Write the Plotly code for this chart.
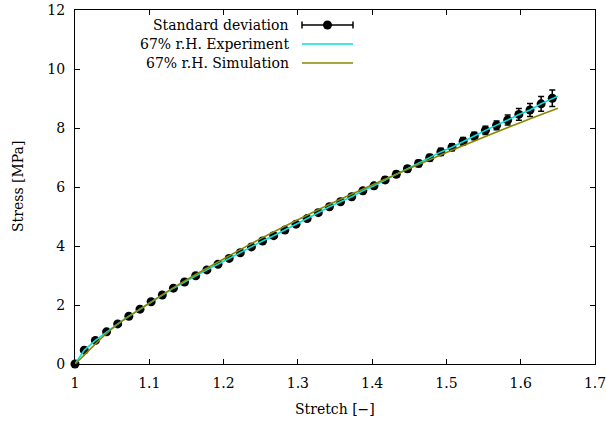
import plotly.graph_objects as go

# ---- data ----
pt_stretch = [1.0, 1.0125, 1.0275, 1.0425, 1.0575, 1.0725, 1.0875, 1.1025, 1.1175, 1.1325,
              1.1475, 1.1625, 1.1775, 1.1925, 1.2075, 1.2225, 1.2375, 1.2525, 1.2675, 1.2825,
              1.2975, 1.3125, 1.3275, 1.3425, 1.3575, 1.3725, 1.3875, 1.4025, 1.4175, 1.4325,
              1.4475, 1.4625, 1.4775, 1.4925, 1.5075, 1.5225, 1.5375, 1.5525, 1.5675, 1.5825,
              1.5975, 1.6125, 1.6275, 1.6425]
pt_stress = [0.0, 0.47, 0.80, 1.09, 1.36, 1.62, 1.86, 2.11, 2.34, 2.57,
             2.78, 2.99, 3.19, 3.38, 3.58, 3.77, 3.97, 4.17, 4.35, 4.54,
             4.74, 4.93, 5.13, 5.33, 5.50, 5.67, 5.87, 6.04, 6.24, 6.43,
             6.62, 6.80, 6.99, 7.19, 7.35, 7.55, 7.73, 7.92, 8.09, 8.27,
             8.46, 8.61, 8.82, 9.01]
pt_std = [0.0, 0.02, 0.02, 0.03, 0.03, 0.03, 0.04, 0.04, 0.04, 0.05,
          0.05, 0.05, 0.05, 0.06, 0.06, 0.06, 0.06, 0.07, 0.07, 0.07,
          0.07, 0.08, 0.08, 0.08, 0.08, 0.09, 0.09, 0.09, 0.10, 0.10,
          0.10, 0.11, 0.11, 0.12, 0.12, 0.13, 0.13, 0.14, 0.15, 0.17,
          0.20, 0.22, 0.25, 0.28]

exp_stretch = pt_stretch + [1.65]
exp_stress = pt_stress + [9.08]

sim_stretch = [1.0, 1.01, 1.05, 1.10, 1.15, 1.20, 1.25, 1.30, 1.35, 1.40, 1.45, 1.50, 1.55, 1.60, 1.65]
sim_stress = [0.0, 0.24, 1.20, 2.06, 2.85, 3.56, 4.25, 4.89, 5.50, 6.07, 6.63, 7.17, 7.69, 8.19, 8.67]

x_ticks = [1, 1.1, 1.2, 1.3, 1.4, 1.5, 1.6, 1.7]
x_ticklabels = ["1", "1.1", "1.2", "1.3", "1.4", "1.5", "1.6", "1.7"]
y_ticks = [0, 2, 4, 6, 8, 10, 12]

legend_labels = ["Standard deviation", "67% r.H. Experiment", "67% r.H. Simulation"]
x_title = "Stretch [−]"
y_title = "Stress [MPa]"

CYAN = "#00e0e0"
OLIVE = "#888800"
FONT = "DejaVu Serif"
FS = 14

W, H = 606, 427
ml, mr, mt, mb = 75, 11, 10, 63
pw, ph = W - ml - mr, H - mt - mb

fig = go.Figure()
fig.add_trace(go.Scatter(
    x=pt_stretch, y=pt_stress, mode="markers",
    marker=dict(color="black", size=9),
    error_y=dict(type="data", array=pt_std, color="black", thickness=1.5, width=3),
    cliponaxis=False, showlegend=False))
fig.add_trace(go.Scatter(
    x=exp_stretch, y=exp_stress, mode="lines",
    line=dict(color=CYAN, width=1.6), showlegend=False))
fig.add_trace(go.Scatter(
    x=sim_stretch, y=sim_stress, mode="lines", line_shape="spline",
    line=dict(color=OLIVE, width=1.6), showlegend=False))

axis_common = dict(showline=True, linecolor="black", linewidth=1, mirror="ticks",
                   ticks="inside", ticklen=5, tickcolor="black", showgrid=False,
                   zeroline=False, automargin=False, ticklabeloverflow="allow",
                   tickfont=dict(family=FONT, size=FS, color="black"))
fig.update_xaxes(range=[1, 1.7], tickvals=x_ticks, ticktext=x_ticklabels, ticklabelstandoff=6,
                 **axis_common)
fig.update_yaxes(range=[0, 12], tickvals=y_ticks, ticklabelstandoff=6, **axis_common)

def px(xp):
    return (xp - ml) / pw
def py(yp):
    return 1 - (yp - mt) / ph

# axis titles
fig.add_annotation(xref="paper", yref="paper", x=px(335), y=py(409), text=x_title,
                   showarrow=False, xanchor="center", yanchor="middle",
                   font=dict(family=FONT, size=FS, color="black"))
fig.add_annotation(xref="paper", yref="paper", x=px(18), y=py(187), text=y_title,
                   showarrow=False, xanchor="center", yanchor="middle", textangle=-90,
                   font=dict(family=FONT, size=FS, color="black"))

# custom legend (text right-aligned, sample to the right)
rows = [25, 44, 63]
for lab, yrow in zip(legend_labels, rows):
    fig.add_annotation(xref="paper", yref="paper", x=px(291), y=py(yrow), text=lab,
                       showarrow=False, xanchor="right", yanchor="middle",
                       font=dict(family=FONT, size=FS, color="black"))
fig.add_shape(type="line", xref="paper", yref="paper", x0=px(302), x1=px(353),
              y0=py(rows[0]), y1=py(rows[0]), line=dict(color="black", width=1.5))
for xe in (302, 353):
    fig.add_shape(type="line", xref="paper", yref="paper", x0=px(xe), x1=px(xe),
                  y0=py(rows[0] - 3.5), y1=py(rows[0] + 3.5), line=dict(color="black", width=1.5))
fig.add_shape(type="circle", xref="paper", yref="paper", x0=px(323), x1=px(332),
              y0=py(rows[0] - 4.5), y1=py(rows[0] + 4.5), fillcolor="black",
              line=dict(color="black", width=0))
fig.add_shape(type="line", xref="paper", yref="paper", x0=px(302), x1=px(353),
              y0=py(rows[1]), y1=py(rows[1]), line=dict(color=CYAN, width=1.6))
fig.add_shape(type="line", xref="paper", yref="paper", x0=px(302), x1=px(353),
              y0=py(rows[2]), y1=py(rows[2]), line=dict(color=OLIVE, width=1.6))

fig.update_layout(width=W, height=H, margin=dict(l=ml, r=mr, t=mt, b=mb),
                  plot_bgcolor="white", paper_bgcolor="white", showlegend=False)
fig.write_html("out.html", config={"displayModeBar": False},
               post_script="document.body.style.margin='0px';")
